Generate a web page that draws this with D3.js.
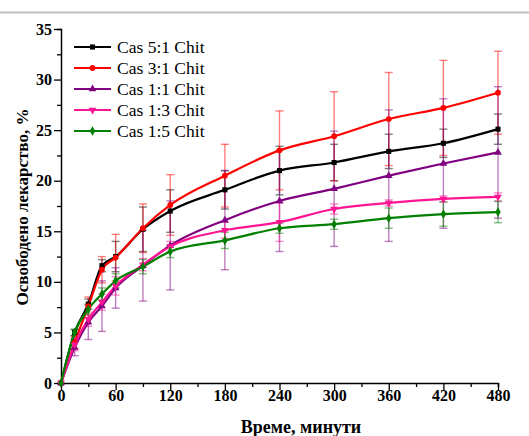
<!DOCTYPE html>
<html>
<head>
<meta charset="utf-8">
<script src="https://cdn.jsdelivr.net/npm/d3@7"></script>
<style>
  body { margin: 0; background: #fff; }
  svg { display: block; }
  svg text { font-family: "Liberation Serif", "Times New Roman", Times, Tinos, "DejaVu Serif", serif !important; }
</style>
</head>
<body>
<svg id="chart" width="529" height="436"></svg>
<script>
// time points, minutes
const times = [0, 15, 30, 45, 60, 90, 120, 180, 240, 300, 360, 420, 480]

const names = ["Cas 5:1 Chit", "Cas 3:1 Chit", "Cas 1:1 Chit", "Cas 1:3 Chit", "Cas 1:5 Chit"]

// released drug, %
const cas51 = [0, 5.0, 7.8, 11.6, 12.5, 15.2, 17.0, 19.1, 21.0, 21.8, 22.9, 23.7, 25.1]
const cas31 = [0, 4.0, 7.6, 11.2, 12.4, 15.3, 17.6, 20.5, 23.0, 24.4, 26.1, 27.2, 28.7]
const cas11 = [0, 3.5, 6.0, 7.6, 9.4, 11.6, 13.6, 16.1, 18.0, 19.2, 20.5, 21.7, 22.8]
const cas13 = [0, 3.8, 6.3, 8.0, 9.6, 11.7, 13.5, 15.1, 15.9, 17.2, 17.8, 18.2, 18.4]
const cas15 = [0, 5.0, 7.3, 8.8, 10.1, 11.5, 13.0, 14.1, 15.3, 15.7, 16.3, 16.7, 16.9]

// standard deviations
const err51 = [0, 0.3, 0.5, 0.6, 1.5, 2.2, 2.1, 1.9, 2.4, 1.8, 1.7, 1.4, 1.5]
const err31 = [0, 0.6, 0.9, 1.3, 2.3, 2.4, 3.0, 3.1, 3.9, 4.4, 4.6, 4.7, 4.1]
const err11 = [0, 0.8, 1.7, 2.5, 2.0, 3.5, 4.4, 4.9, 5.0, 5.7, 6.5, 6.4, 6.5]
const err13 = [0, 0.6, 0.7, 0.8, 0.9, 0.6, 0.5, 0.8, 1.9, 0.5, 0.3, 0.3, 0.4]
const err15 = [0, 0.3, 0.5, 0.6, 0.7, 0.7, 0.6, 0.8, 0.5, 0.5, 1.0, 1.2, 1.05]

const xTicks = [0, 60, 120, 180, 240, 300, 360, 420, 480]
const yTicks = [0, 5, 10, 15, 20, 25, 30, 35]

const colors = ["#000000", "#ff0000", "#800080", "#ff1493", "#008000"]
const symbols = [d3.symbolSquare, d3.symbolCircle, d3.symbolTriangle, d3.symbolTriangle, d3.symbolDiamond]
const rotations = [0, 0, 0, 180, 0]

const series = [cas51, cas31, cas11, cas13, cas15].map((vals, i) => ({
  name: names[i],
  color: colors[i],
  symbol: symbols[i],
  rot: rotations[i],
  points: times.map((t, j) => ({ t: t, v: vals[j], e: [err51, err31, err11, err13, err15][i][j] }))
}))

const svg = d3.select('#chart')

// thin grey band at the top of the picture
svg.append('line')
  .attr('x1', 0).attr('x2', 529).attr('y1', 12.5).attr('y2', 12.5)
  .attr('stroke', '#c0c0c0').attr('stroke-width', 2)

const x = d3.scaleLinear().domain([0, 480]).range([61, 498])
const y = d3.scaleLinear().domain([0, 35]).range([383, 29])

// axes
const xAxis = d3.axisBottom(x)
  .tickValues(d3.range(0, 481, 30))
  .tickSize(4)
  .tickFormat(d => xTicks.includes(d) ? d : '')
svg.append('g')
  .attr('transform', 'translate(0,383)')
  .call(xAxis)
  .call(g => g.selectAll('.tick line').filter(d => d % 60 == 0).attr('y2', 7))
  .call(g => g.selectAll('text').attr('dy', '0.3em').attr('y', 13))

const yAxis = d3.axisLeft(y)
  .tickValues(d3.range(0, 35.1, 2.5))
  .tickSize(4)
  .tickFormat(d => yTicks.includes(d) ? d : '')
svg.append('g')
  .attr('transform', 'translate(61,0)')
  .call(yAxis)
  .call(g => g.selectAll('.tick line').filter(d => d % 5 == 0).attr('x2', -7))
  .call(g => g.selectAll('text').attr('x', -9))

svg.selectAll('.domain').attr('stroke', '#000').attr('stroke-width', 1.5)
svg.selectAll('.tick line').attr('stroke', '#000').attr('stroke-width', 1.3)
svg.selectAll('.tick text')
  .attr('fill', '#000')
  .style('font-weight', 'bold')
  .style('font-size', '16px')

// axis titles
svg.append('text')
  .attr('x', 301).attr('y', 433)
  .attr('text-anchor', 'middle')
  .style('font-weight', 'bold').style('font-size', '18px')
  .text('Време, минути')

svg.append('text')
  .attr('transform', 'translate(28,207) rotate(-90)')
  .attr('text-anchor', 'middle')
  .style('font-weight', 'bold').style('font-size', '17px')
  .text('Освободено лекарство, %')

// error bars
const bars = svg.append('g').attr('class', 'errors')
series.forEach(s => {
  const g = bars.append('g')
    .attr('stroke', s.color)
    .attr('stroke-opacity', 0.5)
    .attr('stroke-width', 1.4)
  const pts = s.points.filter(p => p.e > 0)
  g.selectAll('line.v').data(pts).enter().append('line')
    .attr('x1', d => x(d.t)).attr('x2', d => x(d.t))
    .attr('y1', d => y(d.v - d.e)).attr('y2', d => y(d.v + d.e))
  g.selectAll('line.top').data(pts).enter().append('line')
    .attr('x1', d => x(d.t) - 4).attr('x2', d => x(d.t) + 4)
    .attr('y1', d => y(d.v + d.e)).attr('y2', d => y(d.v + d.e))
  g.selectAll('line.bot').data(pts).enter().append('line')
    .attr('x1', d => x(d.t) - 4).attr('x2', d => x(d.t) + 4)
    .attr('y1', d => y(d.v - d.e)).attr('y2', d => y(d.v - d.e))
})

// lines
const line = d3.line()
  .x(d => x(d.t))
  .y(d => y(d.v))
  .curve(d3.curveMonotoneX)

svg.append('g').selectAll('path.line')
  .data(series)
  .enter()
  .append('path')
  .attr('fill', 'none')
  .attr('stroke', d => d.color)
  .attr('stroke-width', 2.2)
  .attr('d', d => line(d.points))

// markers
series.forEach(s => {
  svg.append('g').selectAll('path.mark')
    .data(s.points)
    .enter()
    .append('path')
    .attr('d', d3.symbol().type(s.symbol).size(26))
    .attr('fill', s.color)
    .attr('transform', d => `translate(${x(d.t)},${y(d.v)}) rotate(${s.rot})`)
})

// legend
const legend = svg.append('g').attr('class', 'legend')
series.forEach((s, i) => {
  const ly = 47 + i * 21
  legend.append('line')
    .attr('x1', 74).attr('x2', 111).attr('y1', ly).attr('y2', ly)
    .attr('stroke', s.color).attr('stroke-width', 2.2)
  legend.append('path')
    .attr('d', d3.symbol().type(s.symbol).size(26))
    .attr('fill', s.color)
    .attr('transform', `translate(92.5,${ly}) rotate(${s.rot})`)
  legend.append('text')
    .attr('x', 117).attr('y', ly + 6)
    .style('font-size', '17.5px')
    .text(s.name)
})
</script>
</body>
</html>
